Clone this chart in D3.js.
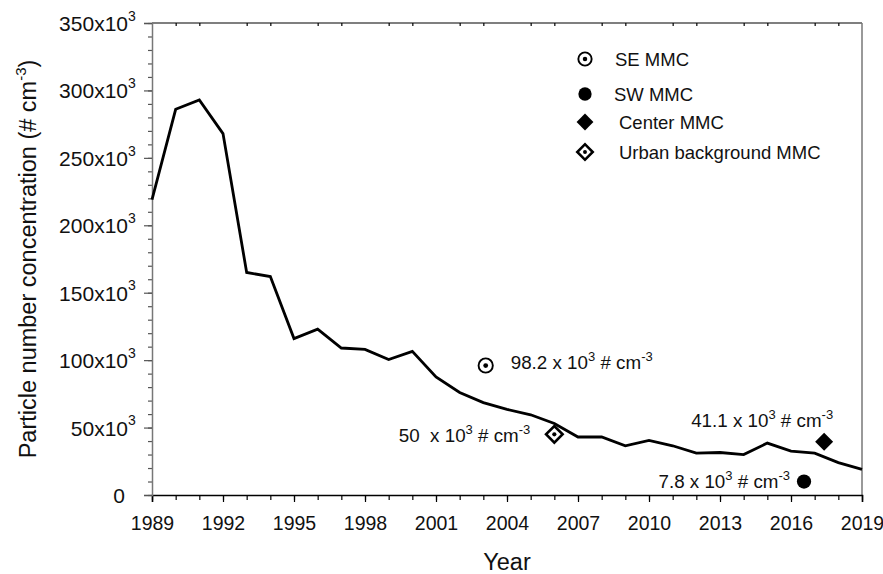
<!DOCTYPE html>
<html>
<head>
<meta charset="utf-8">
<script src="https://cdn.jsdelivr.net/npm/d3@7"></script>
<style>
  body { margin: 0; background: #fff; }
  svg { font-family: "Liberation Sans", Arial, sans-serif; }
</style>
</head>
<body>
<div id="chart"></div>
<script>
// yearly particle number concentration (x10^3 # cm-3)
const years = [1989, 1990, 1991, 1992, 1993, 1994, 1995, 1996, 1997, 1998, 1999, 2000,
  2001, 2002, 2003, 2004, 2005, 2006, 2007, 2008, 2009, 2010, 2011, 2012, 2013, 2014,
  2015, 2016, 2017, 2018, 2019];
const pnc = [219, 286, 293, 268, 165, 162, 116, 123, 109, 108, 100.5, 106.5,
  87.5, 76, 68.5, 63.5, 59.5, 53, 43, 43, 36.5, 40.5, 36.5, 31, 31.5, 30,
  38.5, 32.5, 31, 24, 19];

// measurement campaigns
const sites = ["SE MMC", "SW MMC", "Center MMC", "Urban background MMC"];
const siteYear = [2003.1, 2016.55, 2017.4, 2006.0];
const siteValue = [96, 10, 39.5, 45];
const siteLabel = ["98.2", "7.8", "41.1", "50 "];

const yTicks = [0, 50, 100, 150, 200, 250, 300, 350];
const xTicks = [1989, 1992, 1995, 1998, 2001, 2004, 2007, 2010, 2013, 2016, 2019];

const W = 883, H = 574;
const margin = {top: 23, right: 21, bottom: 79, left: 152};
const w = W - margin.left - margin.right;
const h = H - margin.top - margin.bottom;

const svg = d3.select("#chart").append("svg")
    .attr("width", W)
    .attr("height", H);

const g = svg.append("g")
    .attr("transform", `translate(${margin.left},${margin.top})`);

const x = d3.scaleLinear().domain([1989, 2019]).range([0, w]);
const y = d3.scaleLinear().domain([0, 350]).range([h, 0]);

// frame: top (black) and right (gray)
g.append("line").attr("x1", 0).attr("x2", w).attr("y1", 0).attr("y2", 0)
    .attr("stroke", "#000").attr("stroke-width", 1.2);
g.append("line").attr("x1", w).attr("x2", w).attr("y1", 0).attr("y2", h)
    .attr("stroke", "#777").attr("stroke-width", 1.5);

// top minor ticks (inside)
const topAxis = g.append("g")
    .call(d3.axisTop(x).tickValues(years.filter(d => (d - 1989) % 3 !== 0))
        .tickSize(-3).tickFormat(""));
topAxis.select(".domain").remove();
topAxis.selectAll("line").attr("stroke", "#000").attr("stroke-width", 1.2);

// bottom axis
const xMinor = g.append("g")
    .attr("transform", `translate(0,${h})`)
    .call(d3.axisBottom(x).tickValues(years).tickSize(5).tickFormat(""));
xMinor.select(".domain").remove();
xMinor.selectAll("line").attr("stroke", "#000").attr("stroke-width", 1.2);

const xAxis = g.append("g")
    .attr("transform", `translate(0,${h})`)
    .call(d3.axisBottom(x).tickValues(xTicks).tickSize(7).tickFormat(d3.format("d")));
xAxis.select(".domain").attr("stroke", "#000").attr("stroke-width", 1.5);
xAxis.selectAll("line").attr("stroke", "#000").attr("stroke-width", 1.2);
xAxis.selectAll("text")
    .attr("y", 21)
    .attr("font-size", 19.5)
    .attr("font-family", "Liberation Sans, Arial, sans-serif")
    .attr("fill", "#111");

// left axis
const yMinor = g.append("g")
    .call(d3.axisLeft(y).tickValues(d3.range(0, 351, 10)).tickSize(4).tickFormat(""));
yMinor.select(".domain").remove();
yMinor.selectAll("line").attr("stroke", "#555").attr("stroke-width", 1.2);

const yAxis = g.append("g")
    .call(d3.axisLeft(y).tickValues(yTicks).tickSize(8).tickFormat(""));
yAxis.select(".domain").attr("stroke", "#777").attr("stroke-width", 1.5);
yAxis.selectAll("line").attr("stroke", "#555").attr("stroke-width", 1.2);
yAxis.selectAll(".tick").each(function (d) {
  const t = d3.select(this);
  t.append("text")
      .attr("x", d === 0 ? -27 : -24)
      .attr("dy", "0.36em")
      .attr("text-anchor", "end")
      .attr("font-size", 21)
      .attr("fill", "#111")
      .text(d === 0 ? "0" : d + "x10");
  if (d !== 0) {
    t.append("text")
        .attr("x", -24)
        .attr("dy", "-0.2em")
        .attr("text-anchor", "start")
        .attr("font-size", 14)
        .attr("fill", "#111")
        .text("3");
  }
});

// axis titles
const yTitle = svg.append("text")
    .attr("transform", `translate(36,${margin.top + h / 2}) rotate(-90)`)
    .attr("text-anchor", "middle")
    .attr("font-size", 23.5)
    .attr("fill", "#111");
yTitle.append("tspan").text("Particle number concentration (# cm");
yTitle.append("tspan").attr("font-size", 15).attr("dy", -10).text("-3");
yTitle.append("tspan").attr("dy", 10).text(")");

svg.append("text")
    .attr("x", margin.left + w / 2)
    .attr("y", 570)
    .attr("text-anchor", "middle")
    .attr("font-size", 23.5)
    .attr("fill", "#111")
    .text("Year");

// trend line
const line = d3.line()
    .x((d, i) => x(years[i]))
    .y(d => y(d));

g.append("path")
    .datum(pnc)
    .attr("d", line)
    .attr("fill", "none")
    .attr("stroke", "#000")
    .attr("stroke-width", 2.8)
    .attr("stroke-linejoin", "miter");

// marker drawing
function drawMarker(sel, i, s) {
  if (i === 0) {
    sel.append("circle").attr("r", s * 0.95).attr("fill", "#fff")
        .attr("stroke", "#000").attr("stroke-width", 1.9);
    sel.append("circle").attr("r", s * 0.32).attr("fill", "#000");
  } else if (i === 1) {
    sel.append("circle").attr("r", s * 0.95).attr("fill", "#000");
  } else if (i === 2) {
    sel.append("rect").attr("x", -s * 0.85).attr("y", -s * 0.85)
        .attr("width", s * 1.7).attr("height", s * 1.7)
        .attr("transform", "rotate(45)").attr("fill", "#000");
  } else {
    sel.append("rect").attr("x", -s * 0.78).attr("y", -s * 0.78)
        .attr("width", s * 1.56).attr("height", s * 1.56)
        .attr("transform", "rotate(45)").attr("fill", "#fff")
        .attr("stroke", "#000").attr("stroke-width", 2.6);
    sel.append("circle").attr("r", s * 0.28).attr("fill", "#000");
  }
}

// campaign points
const labelOff = [
  {dx: 25, dy: 3, anchor: "start"},
  {dx: -14, dy: 6, anchor: "end"},
  {dx: 9, dy: -15, anchor: "end"},
  {dx: -24, dy: 8, anchor: "end"}
];

sites.forEach((s, i) => {
  const px = x(siteYear[i]), py = y(siteValue[i]);
  const m = g.append("g").attr("transform", `translate(${px},${py})`);
  drawMarker(m, i, 7.5);

  const t = g.append("text")
      .attr("x", px + labelOff[i].dx)
      .attr("y", py + labelOff[i].dy)
      .attr("text-anchor", labelOff[i].anchor)
      .attr("font-size", 18.8)
      .attr("fill", "#111")
      .attr("xml:space", "preserve");
  t.append("tspan").text(siteLabel[i] + " x 10");
  t.append("tspan").attr("font-size", 13).attr("dy", -8).text("3");
  t.append("tspan").attr("dy", 8).text(" # cm");
  t.append("tspan").attr("font-size", 13).attr("dy", -8).text("-3");
});

// legend
const legendY = [59, 94, 122, 152];
const legendTextX = [615, 614, 619, 619];
sites.forEach((s, i) => {
  const m = svg.append("g").attr("transform", `translate(585,${legendY[i]})`);
  drawMarker(m, i, 7);
  svg.append("text")
      .attr("x", legendTextX[i])
      .attr("y", legendY[i] + 7)
      .attr("font-size", 18.5)
      .attr("fill", "#111")
      .text(s);
});
</script>
</body>
</html>
